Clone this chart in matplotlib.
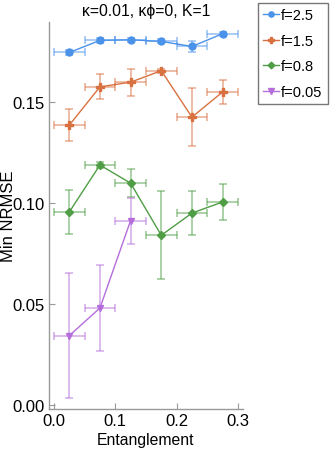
import matplotlib.pyplot as plt

plt.rcParams['font.family'] = ['Liberation Sans', 'DejaVu Sans']

entanglement = [0.025, 0.075, 0.125, 0.175, 0.225, 0.275]
x_err = [0.025] * 6

labels = ['f=2.5', 'f=1.5', 'f=0.8', 'f=0.05']

nrmse_25 = [0.1745, 0.1805, 0.1808, 0.1800, 0.1775, 0.1838]
err_25 = [0.0012, 0.0012, 0.0010, 0.0010, 0.0028, 0.0010]

nrmse_15 = [0.1385, 0.1575, 0.1598, 0.1655, 0.1425, 0.1550]
err_15 = [0.0078, 0.0062, 0.0066, 0.0010, 0.0144, 0.0061]

nrmse_08 = [0.0955, 0.1188, 0.1098, 0.0840, 0.0950, 0.1005]
err_08 = [0.0110, 0.0015, 0.0068, 0.0218, 0.0110, 0.0088]

nrmse_005 = [0.0343, 0.0480, 0.0913]
err_005 = [0.0310, 0.0212, 0.0114]

series = [
    (nrmse_25, err_25, '#4a92ea', 'o', 5),
    (nrmse_15, err_15, '#d9703f', 'P', 6),
    (nrmse_08, err_08, '#4f9d45', 'D', 4.5),
    (nrmse_005, err_005, '#b56ddb', 'v', 5),
]

fig = plt.figure(figsize=(3.3, 4.6), dpi=100)
ax = fig.add_axes([0.1485, 0.1087, 0.5875, 0.8413])

for (vals, errs, color, marker, ms), label in zip(series, labels):
    n = len(vals)
    ax.errorbar(entanglement[:n], vals, xerr=x_err[:n], yerr=errs,
                fmt='none', ecolor=color, alpha=0.55, elinewidth=1.2,
                capsize=3, capthick=1.2)
    ax.plot(entanglement[:n], vals, color=color, lw=1.0, marker=marker,
            ms=ms, label=label)

ax.set_xlim(-0.008, 0.308)
ax.set_ylim(-0.002, 0.1896)
ax.set_xticks([0.0, 0.1, 0.2, 0.3])
ax.set_xticklabels(['0.0', '0.1', '0.2', '0.3'])
ax.set_yticks([0.0, 0.05, 0.10, 0.15])
ax.set_yticklabels(['0.00', '0.05', '0.10', '0.15'])

for side in ['top', 'right']:
    ax.spines[side].set_visible(False)
for side in ['left', 'bottom']:
    ax.spines[side].set_color('#999999')
    ax.spines[side].set_linewidth(1.0)
ax.tick_params(direction='in', length=4, width=0.8, color='#999999',
               labelsize=12, labelcolor='black', pad=3)

ax.set_xlabel('Entanglement', fontsize=11.3, labelpad=3)
ax.set_ylabel('Min NRMSE', fontsize=12)
ax.yaxis.set_label_coords(-0.172, 0.5)
ax.set_title('κ=0.01, κϕ=0, K=1', fontsize=11.3, pad=5)

leg = ax.legend(loc='upper left', bbox_to_anchor=(1.077, 1.049), fontsize=10.5,
                frameon=True, fancybox=False, edgecolor='#555555',
                borderaxespad=0, handlelength=1.1, handletextpad=0.15,
                borderpad=0.35, labelspacing=0.8, markerscale=0.75)
leg.get_frame().set_linewidth(1.0)

fig.savefig('out.png', dpi=100)
